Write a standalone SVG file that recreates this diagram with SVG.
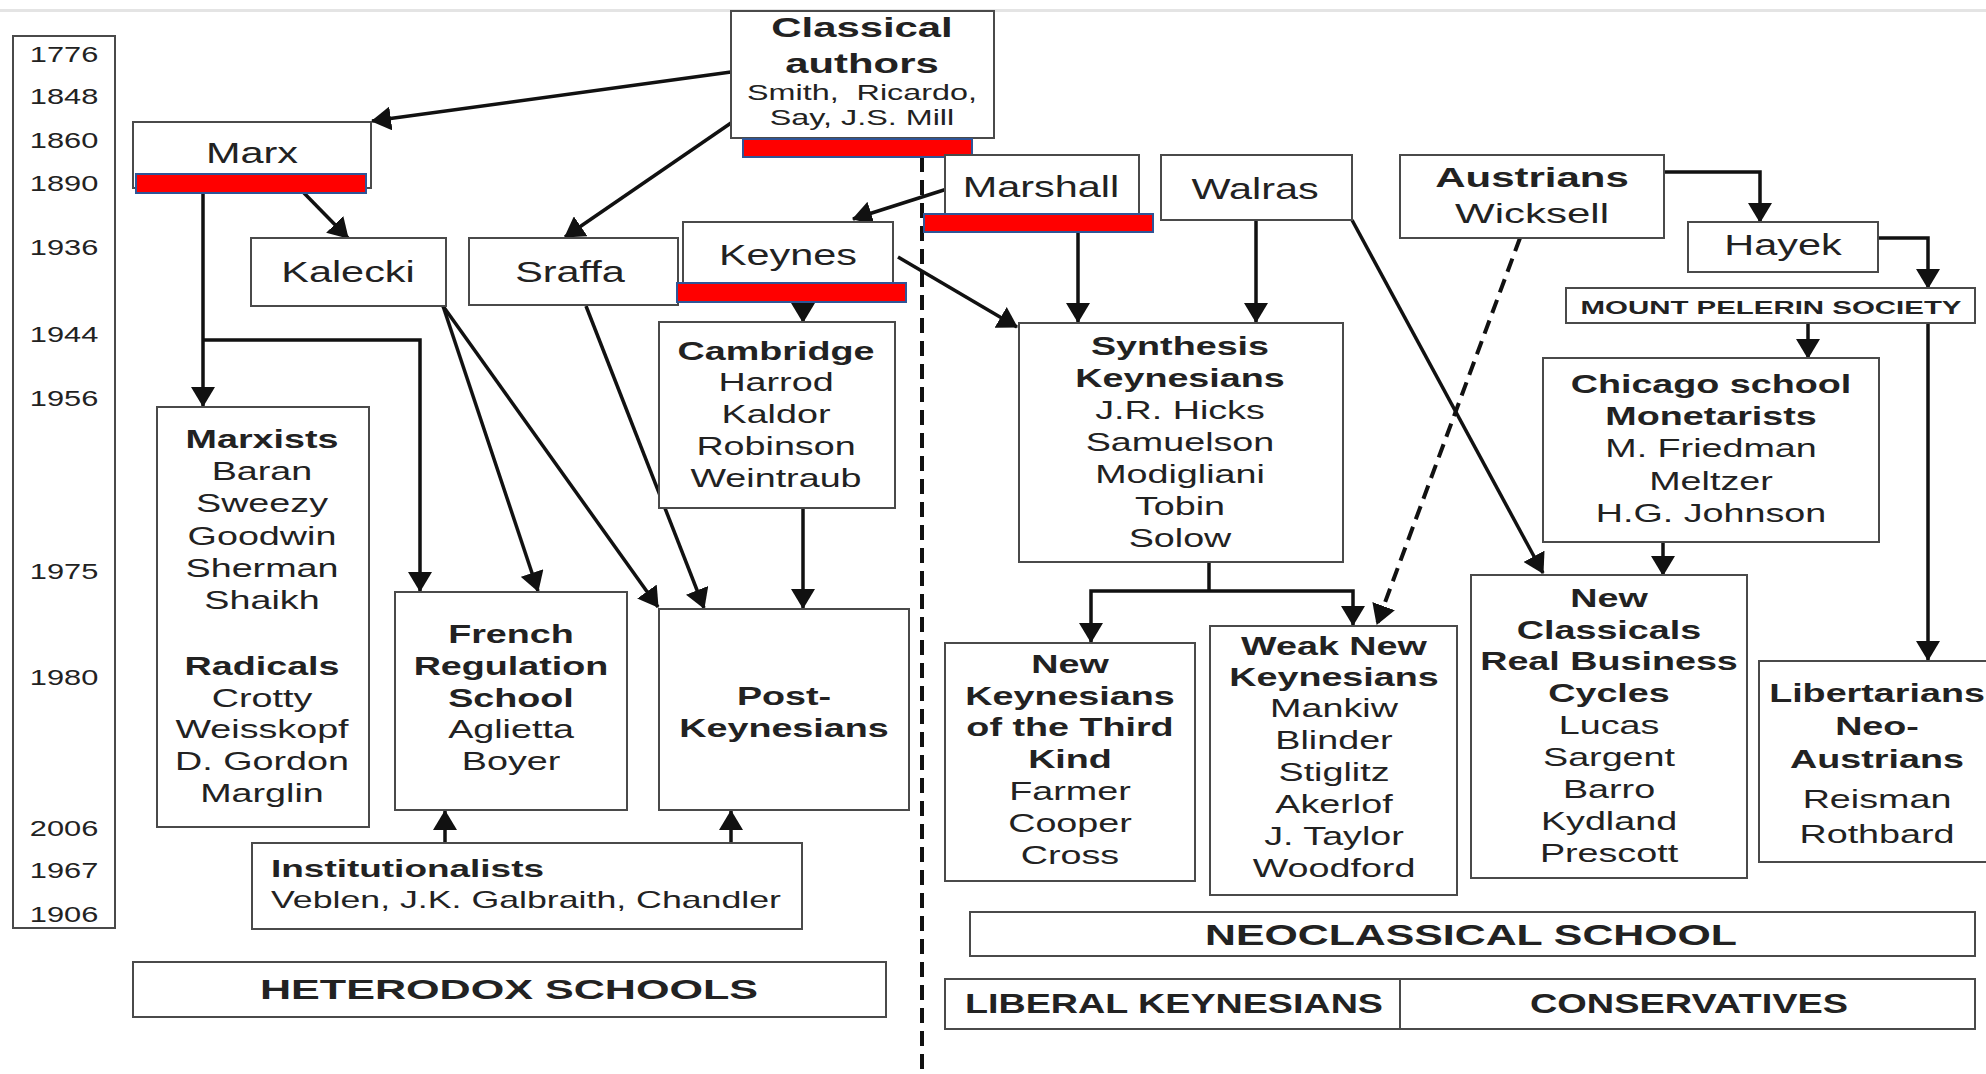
<svg xmlns="http://www.w3.org/2000/svg" width="1986" height="1074" viewBox="0 0 1986 1074">
<style>
  .box { fill: #fff; stroke: #4a4a4a; stroke-width: 2; }
  .red { fill: #ff0000; stroke: #2f5597; stroke-width: 2; }
  text { font-family: "Liberation Sans", Arial, sans-serif; fill: #222; }
  .yr { font-size: 22px; text-anchor: middle; }
  .nm { font-size: 30px; text-anchor: middle; }
  .ls { font-size: 26px; text-anchor: middle; }
  .b { font-weight: bold; }
  .cap { font-weight: bold; text-anchor: middle; }
  .conn line, .conn polyline { stroke: #111; stroke-width: 3.5; fill: none; }
  .conn .arr { marker-end: url(#ah); }
  .conn .dash { stroke-dasharray: 14 8; stroke-width: 4; }
  .divider { stroke: #111; stroke-width: 4; stroke-dasharray: 15 8; fill: none; }
</style>
<defs>
  <marker id="ah" viewBox="0 0 20 24" refX="19" refY="12" markerWidth="20" markerHeight="24" markerUnits="userSpaceOnUse" orient="auto">
    <path d="M0,0 L20,12 L0,24 Z" fill="#111"/>
  </marker>
</defs>
<rect x="0" y="0" width="1986" height="1074" fill="#fff"/>
<rect x="0" y="9" width="1986" height="3" fill="#e4e4e4"/>

<!-- Timeline -->
<g id="timeline">
  <rect class="box" x="13" y="36" width="102" height="892"/>
  <text class="yr" transform="translate(64 62) scale(1.4 1)">1776</text>
  <text class="yr" transform="translate(64 104) scale(1.4 1)">1848</text>
  <text class="yr" transform="translate(64 148) scale(1.4 1)">1860</text>
  <text class="yr" transform="translate(64 191) scale(1.4 1)">1890</text>
  <text class="yr" transform="translate(64 255) scale(1.4 1)">1936</text>
  <text class="yr" transform="translate(64 342) scale(1.4 1)">1944</text>
  <text class="yr" transform="translate(64 406) scale(1.4 1)">1956</text>
  <text class="yr" transform="translate(64 579) scale(1.4 1)">1975</text>
  <text class="yr" transform="translate(64 685) scale(1.4 1)">1980</text>
  <text class="yr" transform="translate(64 836) scale(1.4 1)">2006</text>
  <text class="yr" transform="translate(64 878) scale(1.4 1)">1967</text>
  <text class="yr" transform="translate(64 922) scale(1.4 1)">1906</text>
</g>

<!-- Divider -->
<line class="divider" x1="922" y1="157" x2="922" y2="1074"/>

<!-- Connectors -->
<g class="conn" id="connectors">
  <line class="arr" x1="731" y1="72" x2="372" y2="121"/>
  <line class="arr" x1="731" y1="123" x2="565" y2="237"/>
  <line class="arr" x1="303" y1="192" x2="348" y2="238"/>
  <line class="arr" x1="203" y1="193" x2="203" y2="406"/>
  <polyline class="arr" points="203,340 420,340 420,591"/>
  <line class="arr" x1="443" y1="306" x2="538" y2="591"/>
  <line class="arr" x1="443" y1="306" x2="658" y2="607"/>
  <line class="arr" x1="586" y1="306" x2="704" y2="608"/>
  <line class="arr" x1="947" y1="189" x2="853" y2="219"/>
  <line class="arr" x1="803" y1="302" x2="803" y2="322"/>
  <line class="arr" x1="898" y1="257" x2="1017" y2="327"/>
  <line class="arr" x1="803" y1="508" x2="803" y2="608"/>
  <line class="arr" x1="1078" y1="232" x2="1078" y2="322"/>
  <line class="arr" x1="1256" y1="220" x2="1256" y2="322"/>
  <line class="arr" x1="1352" y1="220" x2="1543" y2="573"/>
  <line class="arr dash" x1="1520" y1="238" x2="1377" y2="624"/>
  <line x1="1209" y1="562" x2="1209" y2="591"/>
  <polyline class="arr" points="1209,591 1091,591 1091,642"/>
  <polyline class="arr" points="1209,591 1353,591 1353,625"/>
  <polyline class="arr" points="1664,172 1760,172 1760,222"/>
  <polyline class="arr" points="1878,238 1928,238 1928,288"/>
  <line class="arr" x1="1808" y1="323" x2="1808" y2="358"/>
  <line class="arr" x1="1928" y1="323" x2="1928" y2="660"/>
  <line class="arr" x1="1663" y1="542" x2="1663" y2="575"/>
  <line class="arr" x1="445" y1="843" x2="445" y2="811"/>
  <line class="arr" x1="731" y1="843" x2="731" y2="811"/>
</g>

<!-- Nodes -->
<g id="classical">
  <rect class="box" x="731" y="11" width="263" height="127"/>
  <text class="cap" style="font-size:27px" transform="translate(862 37) scale(1.55 1)">Classical<tspan x="0" dy="36">authors</tspan></text>
  <text style="font-size:22px;text-anchor:middle" transform="translate(862 100) scale(1.47 1)" xml:space="preserve">Smith,  Ricardo,<tspan x="0" dy="25">Say, J.S. Mill</tspan></text>
  <rect class="red" x="743" y="139" width="229" height="18"/>
</g>

<g id="marx">
  <rect class="box" x="133" y="122" width="238" height="66"/>
  <text class="nm" transform="translate(252 163) scale(1.38 1)">Marx</text>
  <rect class="red" x="136" y="174" width="230" height="19"/>
</g>

<g id="kalecki">
  <rect class="box" x="251" y="238" width="195" height="68"/>
  <text class="nm" transform="translate(348 282) scale(1.38 1)">Kalecki</text>
</g>

<g id="sraffa">
  <rect class="box" x="469" y="238" width="209" height="67"/>
  <text class="nm" transform="translate(570 282) scale(1.38 1)">Sraffa</text>
</g>

<g id="keynes">
  <rect class="box" x="683" y="222" width="210" height="73"/>
  <text class="nm" transform="translate(788 265) scale(1.38 1)">Keynes</text>
  <rect class="red" x="677" y="283" width="229" height="19"/>
</g>

<g id="marshall">
  <rect class="box" x="945" y="155" width="194" height="63"/>
  <text class="nm" transform="translate(1041 197) scale(1.38 1)">Marshall</text>
  <rect class="red" x="924" y="214" width="229" height="18"/>
</g>

<g id="walras">
  <rect class="box" x="1161" y="155" width="191" height="65"/>
  <text class="nm" transform="translate(1255 199) scale(1.38 1)">Walras</text>
</g>

<g id="austrians">
  <rect class="box" x="1400" y="155" width="264" height="83"/>
  <text class="cap" style="font-size:28px" transform="translate(1532 187) scale(1.5 1)">Austrians</text>
  <text style="font-size:28px;text-anchor:middle" transform="translate(1532 223) scale(1.5 1)">Wicksell</text>
</g>

<g id="hayek">
  <rect class="box" x="1688" y="222" width="190" height="50"/>
  <text class="nm" transform="translate(1783 255) scale(1.38 1)">Hayek</text>
</g>

<g id="mont-pelerin">
  <rect class="box" x="1566" y="288" width="409" height="35"/>
  <text class="cap" style="font-size:18px" x="1771" y="314" textLength="381" lengthAdjust="spacingAndGlyphs">MOUNT PELERIN SOCIETY</text>
</g>

<g id="marxists">
  <rect class="box" x="157" y="407" width="212" height="420"/>
  <text class="ls" transform="translate(262 448) scale(1.45 1)"><tspan x="0" class="b">Marxists</tspan><tspan x="0" dy="32">Baran</tspan><tspan x="0" dy="32">Sweezy</tspan><tspan x="0" dy="33">Goodwin</tspan><tspan x="0" dy="32">Sherman</tspan><tspan x="0" dy="32">Shaikh</tspan><tspan x="0" dy="66" class="b">Radicals</tspan><tspan x="0" dy="32">Crotty</tspan><tspan x="0" dy="31">Weisskopf</tspan><tspan x="0" dy="32">D. Gordon</tspan><tspan x="0" dy="32">Marglin</tspan></text>
</g>

<g id="cambridge">
  <rect class="box" x="659" y="322" width="236" height="186"/>
  <text class="ls" transform="translate(776 360) scale(1.45 1)"><tspan x="0" class="b">Cambridge</tspan><tspan x="0" dy="31">Harrod</tspan><tspan x="0" dy="32">Kaldor</tspan><tspan x="0" dy="32">Robinson</tspan><tspan x="0" dy="32">Weintraub</tspan></text>
</g>

<g id="synthesis">
  <rect class="box" x="1019" y="323" width="324" height="239"/>
  <text class="ls" transform="translate(1180 355) scale(1.45 1)"><tspan x="0" class="b">Synthesis</tspan><tspan x="0" dy="32" class="b">Keynesians</tspan><tspan x="0" dy="32">J.R. Hicks</tspan><tspan x="0" dy="32">Samuelson</tspan><tspan x="0" dy="32">Modigliani</tspan><tspan x="0" dy="32">Tobin</tspan><tspan x="0" dy="32">Solow</tspan></text>
</g>

<g id="chicago">
  <rect class="box" x="1543" y="358" width="336" height="184"/>
  <text class="ls" transform="translate(1711 393) scale(1.45 1)"><tspan x="0" class="b">Chicago school</tspan><tspan x="0" dy="32" class="b">Monetarists</tspan><tspan x="0" dy="32">M. Friedman</tspan><tspan x="0" dy="33">Meltzer</tspan><tspan x="0" dy="32">H.G. Johnson</tspan></text>
</g>

<g id="french-regulation">
  <rect class="box" x="395" y="592" width="232" height="218"/>
  <text class="ls" transform="translate(511 643) scale(1.45 1)"><tspan x="0" class="b">French</tspan><tspan x="0" dy="32" class="b">Regulation</tspan><tspan x="0" dy="32" class="b">School</tspan><tspan x="0" dy="31">Aglietta</tspan><tspan x="0" dy="32">Boyer</tspan></text>
</g>

<g id="post-keynesians">
  <rect class="box" x="659" y="609" width="250" height="201"/>
  <text class="ls b" transform="translate(784 705) scale(1.45 1)"><tspan x="0">Post-</tspan><tspan x="0" dy="32">Keynesians</tspan></text>
</g>

<g id="new-keynesians-third">
  <rect class="box" x="945" y="643" width="250" height="238"/>
  <text class="ls" transform="translate(1070 673) scale(1.45 1)"><tspan x="0" class="b">New</tspan><tspan x="0" dy="32" class="b">Keynesians</tspan><tspan x="0" dy="31" class="b">of the Third</tspan><tspan x="0" dy="32" class="b">Kind</tspan><tspan x="0" dy="32">Farmer</tspan><tspan x="0" dy="32">Cooper</tspan><tspan x="0" dy="32">Cross</tspan></text>
</g>

<g id="weak-new-keynesians">
  <rect class="box" x="1210" y="626" width="247" height="269"/>
  <text class="ls" transform="translate(1334 655) scale(1.45 1)"><tspan x="0" class="b">Weak New</tspan><tspan x="0" dy="31" class="b">Keynesians</tspan><tspan x="0" dy="31">Mankiw</tspan><tspan x="0" dy="32">Blinder</tspan><tspan x="0" dy="32">Stiglitz</tspan><tspan x="0" dy="32">Akerlof</tspan><tspan x="0" dy="32">J. Taylor</tspan><tspan x="0" dy="32">Woodford</tspan></text>
</g>

<g id="new-classicals">
  <rect class="box" x="1471" y="575" width="276" height="303"/>
  <text class="ls" transform="translate(1609 607) scale(1.45 1)"><tspan x="0" class="b">New</tspan><tspan x="0" dy="32" class="b">Classicals</tspan><tspan x="0" dy="31" class="b">Real Business</tspan><tspan x="0" dy="32" class="b">Cycles</tspan><tspan x="0" dy="32">Lucas</tspan><tspan x="0" dy="32">Sargent</tspan><tspan x="0" dy="32">Barro</tspan><tspan x="0" dy="32">Kydland</tspan><tspan x="0" dy="32">Prescott</tspan></text>
</g>

<g id="libertarians">
  <rect class="box" x="1759" y="661" width="240" height="201"/>
  <text class="ls" transform="translate(1877 702) scale(1.45 1)"><tspan x="0" class="b">Libertarians</tspan><tspan x="0" dy="33" class="b">Neo-</tspan><tspan x="0" dy="33" class="b">Austrians</tspan><tspan x="0" dy="40">Reisman</tspan><tspan x="0" dy="35">Rothbard</tspan></text>
</g>

<g id="institutionalists">
  <rect class="box" x="252" y="843" width="550" height="86"/>
  <text class="b" style="font-size:24px" x="271" y="877" textLength="273" lengthAdjust="spacingAndGlyphs">Institutionalists</text>
  <text style="font-size:24px" x="271" y="908" textLength="510" lengthAdjust="spacingAndGlyphs">Veblen, J.K. Galbraith, Chandler</text>
</g>

<g id="heterodox">
  <rect class="box" x="133" y="962" width="753" height="55"/>
  <text class="cap" style="font-size:28px" x="509" y="999" textLength="498" lengthAdjust="spacingAndGlyphs">HETERODOX SCHOOLS</text>
</g>

<g id="neoclassical">
  <rect class="box" x="970" y="912" width="1005" height="44"/>
  <text class="cap" style="font-size:30px" x="1471" y="945" textLength="532" lengthAdjust="spacingAndGlyphs">NEOCLASSICAL SCHOOL</text>
</g>

<g id="liberal-keynesians">
  <rect class="box" x="945" y="979" width="455" height="50"/>
  <text class="cap" style="font-size:28px" x="1174" y="1013" textLength="418" lengthAdjust="spacingAndGlyphs">LIBERAL KEYNESIANS</text>
</g>

<g id="conservatives">
  <rect class="box" x="1400" y="979" width="575" height="50"/>
  <text class="cap" style="font-size:28px" x="1689" y="1013" textLength="318" lengthAdjust="spacingAndGlyphs">CONSERVATIVES</text>
</g>
</svg>
